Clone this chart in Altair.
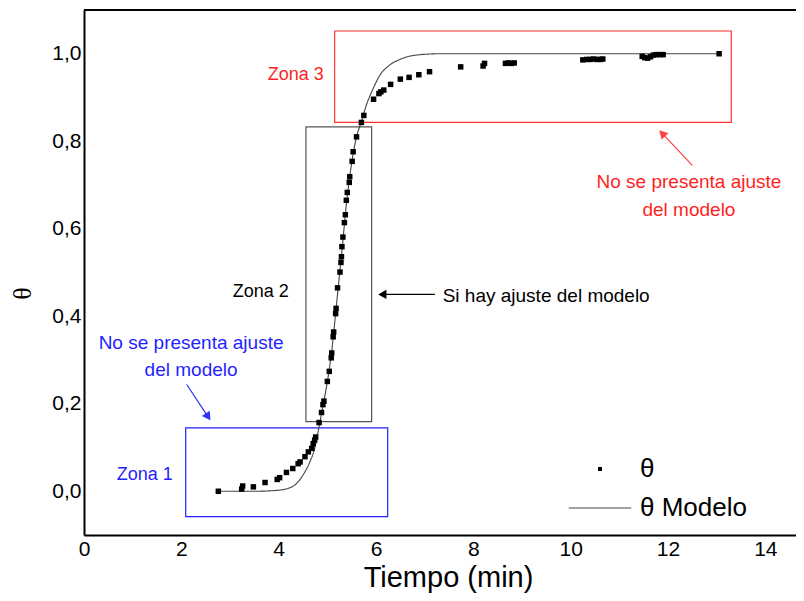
import altair as alt
import pandas as pd

# ---------------- data ----------------
t_exp = [2.76, 3.24, 3.26, 3.48, 3.72, 3.97, 4.02, 4.16, 4.29, 4.40, 4.44, 4.54, 4.61, 4.68,
         4.71, 4.74, 4.76, 4.83, 4.88, 4.91, 4.93, 5.00, 5.04, 5.08, 5.09, 5.12, 5.13, 5.17,
         5.18, 5.21, 5.26, 5.28, 5.29, 5.30, 5.32, 5.35, 5.37, 5.39, 5.41, 5.45, 5.46, 5.51,
         5.53, 5.60, 5.70, 5.75, 5.95, 6.06, 6.10, 6.16, 6.30, 6.50, 6.68, 6.88, 7.10, 7.74,
         8.20, 8.23, 8.66, 8.72, 8.78, 8.84, 10.25, 10.33, 10.40, 10.47, 10.54, 10.61, 10.66,
         11.47, 11.52, 11.58, 11.64, 11.70, 11.76, 11.83, 11.90, 13.05]
theta_exp = [0.000, 0.005, 0.012, 0.010, 0.020, 0.027, 0.031, 0.043, 0.052, 0.063, 0.067, 0.079,
             0.090, 0.098, 0.109, 0.117, 0.124, 0.157, 0.180, 0.198, 0.206, 0.251, 0.274, 0.305,
             0.316, 0.353, 0.364, 0.406, 0.418, 0.465, 0.501, 0.523, 0.536, 0.559, 0.581, 0.614,
             0.632, 0.665, 0.683, 0.706, 0.719, 0.754, 0.776, 0.810, 0.843, 0.859, 0.896, 0.909,
             0.913, 0.917, 0.930, 0.942, 0.946, 0.952, 0.959, 0.970, 0.972, 0.978, 0.978, 0.979,
             0.978, 0.979, 0.986, 0.987, 0.987, 0.988, 0.987, 0.987, 0.988, 0.994, 0.991, 0.990,
             0.993, 0.997, 0.998, 0.998, 0.998, 1.000]

t_model = [2.76, 3.50, 3.96, 4.23, 4.37, 4.50, 4.64, 4.74, 4.81, 4.90, 5.00, 5.10, 5.20, 5.30,
           5.40, 5.50, 5.60, 5.70, 5.80, 5.94, 6.08, 6.28, 6.49, 6.83, 7.31, 13.05]
theta_model = [0.000, 0.000, 0.002, 0.008, 0.018, 0.037, 0.067, 0.098, 0.136, 0.190, 0.250,
               0.330, 0.440, 0.550, 0.665, 0.750, 0.810, 0.845, 0.882, 0.920, 0.951, 0.974,
               0.987, 0.997, 1.000, 1.000]

series_exp = "θ"
series_model = "θ Modelo"

# zone boxes
box_x1 = [2.09, 4.56, 5.15]
box_x2 = [6.24, 5.91, 13.30]
box_y1 = [-0.058, 0.159, 0.843]
box_y2 = [0.145, 0.833, 1.052]
box_color = ["#1f1fff", "#555555", "#ff3030"]

# annotation texts
txt_label = ["Zona 1", "Zona 2", "Zona 3", "No se presenta ajuste", "del modelo",
             "No se presenta ajuste", "del modelo"]
txt_x = [1.25, 3.63, 4.35, 2.20, 2.20, 12.43, 12.43]
txt_y = [0.037, 0.456, 0.952, 0.338, 0.277, 0.707, 0.642]
txt_color = ["#1f1fff", "black", "#ff1f1f", "#1f1fff", "#1f1fff", "#ff1f1f", "#ff1f1f"]
txt_size = [18, 18, 18, 19, 19, 19, 19]

left_label = ["Si hay ajuste del modelo"]
left_x = [7.37]
left_y = [0.447]

# arrows: tail -> head centre, head angle (deg, clockwise from up)
arr_x1 = [7.21, 2.11, 12.50]
arr_y1 = [0.450, 0.244, 0.745]
arr_x2 = [6.13, 2.55, 11.88]
arr_y2 = [0.450, 0.170, 0.818]
arr_angle = [270, 146.5, 317]
arr_color = ["black", "#3030ff", "#ff4040"]

X_MAX = 14.63
FONT = "Liberation Sans"

# ---------------- frames ----------------
df_exp = pd.DataFrame({"t": t_exp, "theta": theta_exp, "serie": series_exp})
df_model = pd.DataFrame({"t": t_model, "theta": theta_model, "modelo": series_model})
df_box = pd.DataFrame({"x1": box_x1, "x2": box_x2, "y1": box_y1, "y2": box_y2, "c": box_color})
df_txt = pd.DataFrame({"x": txt_x, "y": txt_y, "label": txt_label, "c": txt_color, "s": txt_size})
df_left = pd.DataFrame({"x": left_x, "y": left_y, "label": left_label})
df_arr = pd.DataFrame({"x1": arr_x1, "y1": arr_y1, "x2": arr_x2, "y2": arr_y2,
                       "a": arr_angle, "c": arr_color})

xscale = alt.Scale(domain=[0, X_MAX], nice=False, zero=False)
yscale = alt.Scale(domain=[-0.1, 1.1], nice=False, zero=False)

x_axis = alt.Axis(values=[0, 2, 4, 6, 8, 10, 12, 14], ticks=False, grid=False,
                  labelFlush=False, labelOverlap=False,
                  domainColor="black", domainWidth=2, labelFont=FONT, labelFontSize=21,
                  labelColor="black", labelPadding=3, titleFont=FONT, titleFontSize=29,
                  titleFontWeight="normal", titleColor="black",
                  titleX=364, titleY=51, titleAlign="center", titleBaseline="alphabetic")
y_axis = alt.Axis(values=[0, 0.2, 0.4, 0.6, 0.8, 1.0], ticks=False, grid=False,
                  labelFlush=False, labelOverlap=False,
                  labelExpr="replace(format(datum.value, '.1f'), '.', ',')",
                  domainColor="black", domainWidth=2, labelFont=FONT, labelFontSize=21,
                  labelColor="black", labelPadding=3, titleFont="Liberation Serif",
                  titleFontSize=26, titleFontWeight="normal", titleColor="black",
                  titleX=-62, titleY=283, titleBaseline="middle", titleAngle=270)

legend_pts = alt.Legend(title=None, orient="none", legendX=503, legendY=446,
                        symbolType="square", symbolSize=16, symbolFillColor="black",
                        symbolStrokeWidth=0,
                        labelFont=FONT, labelFontSize=26, labelColor="black", labelOffset=27)
legend_line = alt.Legend(title=None, orient="none", legendX=484, legendY=466,
                         symbolType="stroke", symbolSize=3900, symbolStrokeColor="#444444",
                         symbolStrokeWidth=1.1,
                         labelFont=FONT, labelFontSize=26, labelColor="black", labelOffset=8)

points = alt.Chart(df_exp).mark_square(size=30, opacity=1).encode(
    x=alt.X("t:Q", scale=xscale, axis=x_axis, title="Tiempo (min)"),
    y=alt.Y("theta:Q", scale=yscale, axis=y_axis, title="θ"),
    color=alt.Color("serie:N", scale=alt.Scale(domain=[series_exp], range=["black"]),
                    legend=legend_pts),
)

model = alt.Chart(df_model).mark_line(color="#444444", strokeWidth=1.1,
                                      interpolate="monotone").encode(
    x=alt.X("t:Q", scale=xscale),
    y=alt.Y("theta:Q", scale=yscale),
    strokeDash=alt.StrokeDash("modelo:N",
                              scale=alt.Scale(domain=[series_model], range=[[1, 0]]),
                              legend=legend_line),
)

boxes = alt.Chart(df_box).mark_rect(fill=None, filled=False, strokeWidth=1.2).encode(
    x="x1:Q", x2="x2:Q", y="y1:Q", y2="y2:Q",
    stroke=alt.Stroke("c:N", scale=None),
)

texts = alt.Chart(df_txt).mark_text(font=FONT, align="center", baseline="middle").encode(
    x="x:Q", y="y:Q", text="label:N",
    color=alt.Color("c:N", scale=None),
    size=alt.Size("s:Q", scale=None),
)

left_texts = alt.Chart(df_left).mark_text(font=FONT, align="left", baseline="middle",
                                          fontSize=19, color="black").encode(
    x="x:Q", y="y:Q", text="label:N",
)

shafts = alt.Chart(df_arr).mark_rule(strokeWidth=1.2).encode(
    x="x1:Q", y="y1:Q", x2="x2:Q", y2="y2:Q",
    color=alt.Color("c:N", scale=None),
)

heads = alt.Chart(df_arr).mark_point(shape="triangle-up", filled=True, size=90,
                                     opacity=1).encode(
    x="x2:Q", y="y2:Q",
    angle=alt.Angle("a:Q", scale=None),
    color=alt.Color("c:N", scale=None),
)

top_border = alt.Chart(pd.DataFrame({"a": [0]})).mark_rule(color="black", strokeWidth=2).encode(
    x=alt.datum(0), x2=alt.datum(X_MAX), y=alt.datum(1.1),
)

chart = alt.layer(boxes, model, points, shafts, heads, texts, left_texts,
                  top_border).properties(
    width=712, height=525,
    autosize=alt.AutoSizeParams(type="none"),
    padding={"left": 76, "top": 2, "right": 0, "bottom": 58},
).configure_view(strokeWidth=0)

chart.save("out.html", embed_options={"renderer": "svg", "actions": False})
